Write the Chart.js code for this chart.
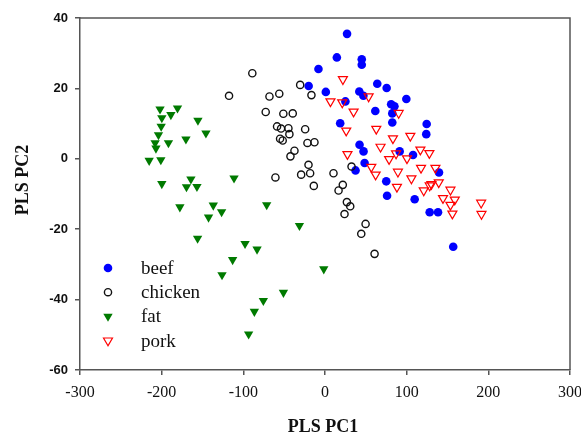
<!DOCTYPE html>
<html>
<head>
<meta charset="utf-8">
<script src="https://cdn.jsdelivr.net/npm/chart.js@4/dist/chart.umd.min.js"></script>
<style>
  html, body { margin: 0; padding: 0; background: #fff; }
  #wrap { width: 581px; height: 437px; }
</style>
</head>
<body>
<div id="wrap"><canvas id="grafico" width="581" height="437"></canvas></div>
<script>
// punti (PC1, PC2)
const beefPts = [
  [27, 35.5], [14.5, 28.8], [45, 28.3], [45, 26.7], [-8, 25.5], [-20, 20.7],
  [1, 19], [42, 19.1], [47, 17.9], [64, 21.3], [75.5, 20.1], [99.6, 17],
  [81, 15.5], [85, 14.9], [25, 16.3], [61.6, 13.6], [82.4, 12.9], [18.6, 10.1],
  [82.4, 10.3], [124.5, 9.9], [124, 7], [42.3, 4], [47.2, 2.1], [48.5, -1.2],
  [37.4, -3.3], [91.4, 2.1], [107.8, 1.1], [139.6, -3.9], [75, -6.4], [76, -10.5],
  [109.8, -11.5], [128.2, -15.2], [138.4, -15.2], [157, -25]
];
const chickenPts = [
  [-89, 24.3], [-117.5, 17.9], [-68, 17.7], [-56, 18.5], [-30.4, 21], [-16.6, 18.1],
  [-72.6, 13.3], [-51, 12.8], [-39.5, 12.9], [-58.7, 9.2], [-53.8, 8.6], [-44.8, 8.7],
  [-24.3, 8.4], [-43.6, 7], [-55, 5.7], [-51.8, 5.2], [-21.5, 4.5], [-12.9, 4.7],
  [-37.4, 2.3], [-42.3, 0.7], [-60.7, -5.3], [-20.2, -1.7], [-29.2, -4.5], [-18.2, -4.1],
  [-13.7, -7.7], [10.4, -4.1], [32.5, -2.2], [21.8, -7.4], [16.6, -9], [26.8, -12.3],
  [30.9, -13.5], [23.9, -15.7], [49.7, -18.5], [44.4, -21.3], [60.7, -27]
];
const fatPts = [
  [-202, 14.1], [-180.6, 14.4], [-188.7, 12.5], [-199.8, 11.6], [-155.6, 10.9], [-200.6, 9.2],
  [-145.8, 7.3], [-203.9, 6.8], [-170.3, 5.6], [-208, 4.5], [-207, 3], [-191.7, 4.5],
  [-215.3, -0.5], [-201, -0.3], [-199.8, -7.1], [-164.2, -5.8], [-169.6, -8], [-156.8, -7.9],
  [-111.4, -5.5], [-177.7, -13.7], [-136.8, -13.2], [-126.6, -15.1], [-142.6, -16.6], [-71.4, -13.1],
  [-156, -22.6], [-97.9, -24.1], [-83.2, -25.7], [-113.1, -28.7], [-126.1, -33], [-31.3, -19],
  [-1.5, -31.3], [-50.9, -38], [-75.5, -40.3], [-86.5, -43.4], [-93.5, -49.8]
];
const porkPts = [
  [21.9, 22.6], [6.7, 16.3], [21.1, 16], [53.4, 17.7], [35, 13.4], [90.2, 13],
  [26, 8], [62.8, 8.5], [104.5, 6.5], [83.2, 5.8], [27.5, 1.3], [68, 3.4],
  [78.5, -0.1], [87, 1.5], [100.4, 0.1], [116.8, 2.6], [127.8, 1.6], [56.7, -2.3],
  [62, -4.5], [89.3, -3.7], [117.6, -2.6], [135.2, -2.6], [105.8, -5.6], [88.1, -8],
  [120.9, -9], [128.2, -7.6], [130.3, -7.2], [139.3, -6.7], [153.6, -8.8], [144.5, -11.2],
  [158.9, -11.6], [153.6, -13.1], [156, -15.6], [191.2, -12.5], [191.6, -15.7]
];
const seriesNames = ['beef', 'chicken', 'fat', 'pork'];
const xTicks = [-300, -200, -100, 0, 100, 200, 300];
const yTicks = [-60, -40, -20, 0, 20, 40];
const xTitle = 'PLS PC1';
const yTitle = 'PLS PC2';

const AXIS_COL = '#555';
const TEXT_COL = '#111';

function toXY(arr) {
    return arr.map(p => ({ x: p[0], y: p[1] }));
}

// cornice, titoli assi e legenda dentro l'area del grafico
const extraPlugin = {
    id: 'extra',
    afterDraw(chart) {
        const ctx = chart.ctx;
        const a = chart.chartArea;
        ctx.save();
        ctx.strokeStyle = AXIS_COL;
        ctx.lineWidth = 1.5;
        ctx.beginPath();
        ctx.moveTo(a.left, a.top);
        ctx.lineTo(a.right, a.top);
        ctx.lineTo(a.right, a.bottom);
        ctx.stroke();

        ctx.fillStyle = TEXT_COL;
        ctx.font = 'bold 18px "Liberation Serif"';
        ctx.textAlign = 'center';
        ctx.textBaseline = 'middle';
        ctx.fillText(xTitle, (a.left + a.right) / 2 - 2, 427);
        ctx.save();
        ctx.translate(23, 180);
        ctx.rotate(-Math.PI / 2);
        ctx.fillText(yTitle, 0, 0);
        ctx.restore();

        // legenda
        ctx.font = '19px "Liberation Serif"';
        ctx.textAlign = 'left';
        chart.data.datasets.forEach((ds, i) => {
            const y = a.bottom - 102 + i * 24.2;
            const x = a.left + 28;
            ctx.fillStyle = ds.backgroundColor;
            ctx.strokeStyle = ds.borderColor;
            ctx.lineWidth = ds.borderWidth;
            Chart.helpers.drawPoint(ctx, {
                pointStyle: ds.pointStyle,
                radius: ds.pointRadius,
                rotation: ds.rotation || 0,
                borderWidth: ds.borderWidth
            }, x, y);
            ctx.fillStyle = TEXT_COL;
            ctx.fillText(ds.label, a.left + 61, y + 1);
        });
        ctx.restore();
    }
};

const graf = document.getElementById('grafico').getContext('2d');

new Chart(graf, {
    type: 'scatter',
    data: {
        datasets: [
            {
                label: seriesNames[0], data: toXY(beefPts), order: 4,
                pointStyle: 'circle', pointRadius: 4.3, borderWidth: 0,
                backgroundColor: '#0000ff', borderColor: '#0000ff'
            },
            {
                label: seriesNames[1], data: toXY(chickenPts), order: 3,
                pointStyle: 'circle', pointRadius: 3.6, borderWidth: 1.4,
                backgroundColor: 'rgba(0,0,0,0)', borderColor: '#111'
            },
            {
                label: seriesNames[2], data: toXY(fatPts), order: 2,
                pointStyle: 'triangle', rotation: 180, pointRadius: 5.4, borderWidth: 0,
                backgroundColor: '#007a00', borderColor: '#007a00'
            },
            {
                label: seriesNames[3], data: toXY(porkPts), order: 1,
                pointStyle: 'triangle', rotation: 180, pointRadius: 5.2, borderWidth: 1.2,
                backgroundColor: 'rgba(0,0,0,0)', borderColor: '#ff0000'
            }
        ]
    },
    options: {
        responsive: false,
        animation: false,
        devicePixelRatio: 1,
        layout: { padding: { top: 18, right: 11, left: 0, bottom: 0 } },
        plugins: {
            legend: { display: false },
            tooltip: { enabled: false }
        },
        scales: {
            x: {
                type: 'linear',
                min: xTicks[0],
                max: xTicks[xTicks.length - 1],
                afterBuildTicks: s => { s.ticks = xTicks.map(v => ({ value: v })); },
                afterFit: s => { s.height = 67; s.paddingLeft = 0; s.paddingRight = 0; },
                grid: { drawOnChartArea: false, drawTicks: true, tickLength: 5, color: AXIS_COL, lineWidth: 1.5 },
                border: { display: true, color: AXIS_COL, width: 1.5 },
                ticks: {
                    padding: 8,
                    color: TEXT_COL,
                    font: { family: 'Liberation Serif', size: 16 }
                }
            },
            y: {
                type: 'linear',
                min: yTicks[0],
                max: yTicks[yTicks.length - 1],
                afterBuildTicks: s => { s.ticks = yTicks.map(v => ({ value: v })); },
                afterFit: s => { s.width = 80; s.paddingTop = 0; s.paddingBottom = 0; },
                grid: { drawOnChartArea: false, drawTicks: true, tickLength: 5, color: AXIS_COL, lineWidth: 1.5 },
                border: { display: true, color: AXIS_COL, width: 1.5 },
                ticks: {
                    padding: 7,
                    color: TEXT_COL,
                    font: { family: 'Liberation Sans', size: 13, weight: 'bold' }
                }
            }
        }
    },
    plugins: [extraPlugin]
});
</script>
</body>
</html>
